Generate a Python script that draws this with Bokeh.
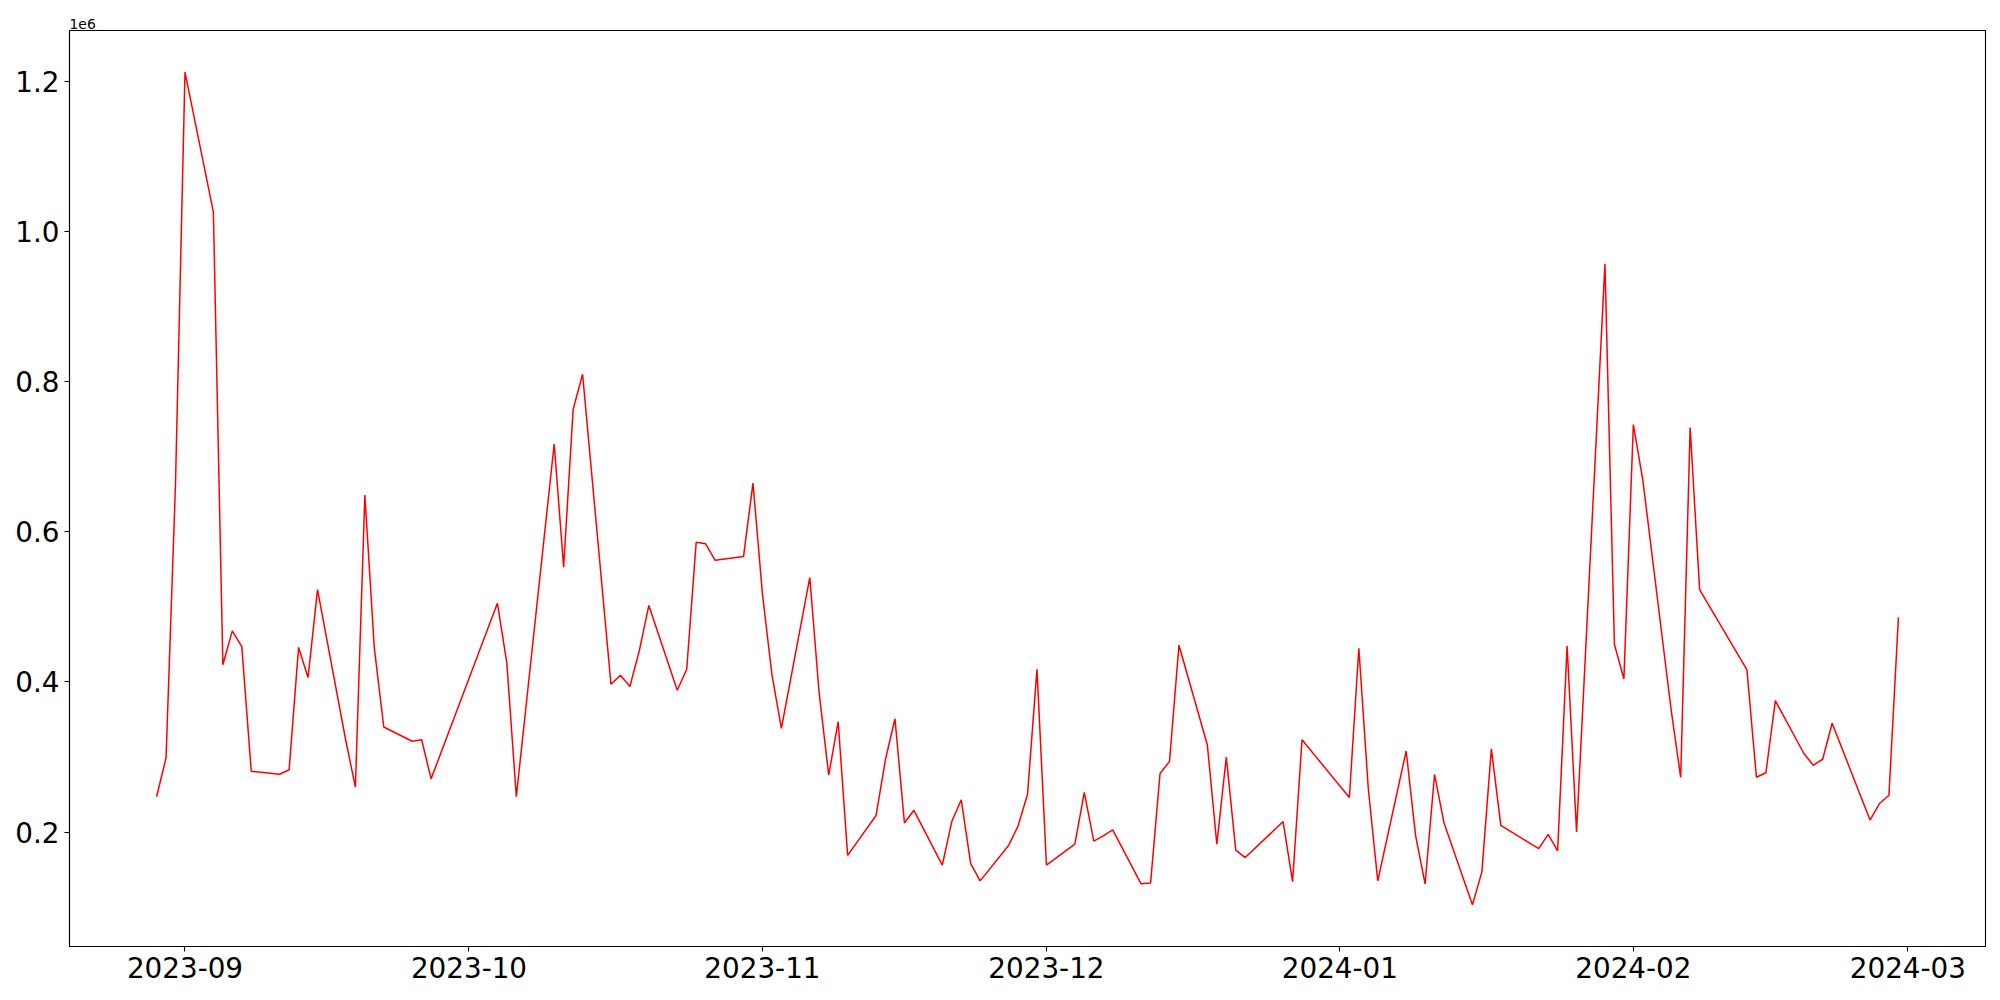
import pandas as pd
from bokeh.plotting import figure
from bokeh.models import ColumnDataSource, FixedTicker, Range1d, Title
from bokeh.embed import file_html
from bokeh.resources import INLINE

# ---- data ----
dates = [
    "2023-08-29", "2023-08-30", "2023-08-31", "2023-09-01", "2023-09-04", "2023-09-05",
    "2023-09-06", "2023-09-07", "2023-09-08", "2023-09-11", "2023-09-12", "2023-09-13",
    "2023-09-14", "2023-09-15", "2023-09-18", "2023-09-19", "2023-09-20", "2023-09-21",
    "2023-09-22", "2023-09-25", "2023-09-26", "2023-09-27", "2023-10-04", "2023-10-05",
    "2023-10-06", "2023-10-10", "2023-10-11", "2023-10-12", "2023-10-13", "2023-10-16",
    "2023-10-17", "2023-10-18", "2023-10-19", "2023-10-20", "2023-10-23", "2023-10-24",
    "2023-10-25", "2023-10-26", "2023-10-27", "2023-10-30", "2023-10-31", "2023-11-01",
    "2023-11-02", "2023-11-03", "2023-11-06", "2023-11-07", "2023-11-08", "2023-11-09",
    "2023-11-10", "2023-11-13", "2023-11-14", "2023-11-15", "2023-11-16", "2023-11-17",
    "2023-11-20", "2023-11-21", "2023-11-22", "2023-11-23", "2023-11-24", "2023-11-27",
    "2023-11-28", "2023-11-29", "2023-11-30", "2023-12-01", "2023-12-04", "2023-12-05",
    "2023-12-06", "2023-12-07", "2023-12-08", "2023-12-11", "2023-12-12", "2023-12-13",
    "2023-12-14", "2023-12-15", "2023-12-18", "2023-12-19", "2023-12-20", "2023-12-21",
    "2023-12-22", "2023-12-26", "2023-12-27", "2023-12-28", "2024-01-02", "2024-01-03",
    "2024-01-04", "2024-01-05", "2024-01-08", "2024-01-09", "2024-01-10", "2024-01-11",
    "2024-01-12", "2024-01-15", "2024-01-16", "2024-01-17", "2024-01-18", "2024-01-22",
    "2024-01-23", "2024-01-24", "2024-01-25", "2024-01-26", "2024-01-29", "2024-01-30",
    "2024-01-31", "2024-02-01", "2024-02-02", "2024-02-05", "2024-02-06", "2024-02-07",
    "2024-02-08", "2024-02-13", "2024-02-14", "2024-02-15", "2024-02-16", "2024-02-19",
    "2024-02-20", "2024-02-21", "2024-02-22", "2024-02-26", "2024-02-27", "2024-02-28",
    "2024-02-29",
]
volume = [
    247000, 299000, 665000, 1212500, 1026000, 423000,
    468000, 447000, 281000, 277000, 283000, 446000,
    406000, 523000, 321000, 260000, 649000, 445000,
    340000, 321000, 323000, 271000, 505000, 425000,
    247000, 717000, 553000, 763000, 810000, 397000,
    409000, 394000, 442000, 502000, 389000, 417000,
    586000, 584000, 562000, 567000, 665000, 517000,
    410000, 338000, 539000, 384000, 276000, 347000,
    169000, 222000, 297000, 351000, 212000, 229000,
    156000, 214000, 243000, 158000, 135000, 182000,
    208000, 250000, 417000, 156000, 184000, 253000,
    188000, 195000, 203000, 131000, 132000, 278000,
    294000, 449000, 316000, 184000, 300000, 176000,
    166000, 214000, 134000, 323000, 246000, 445000,
    258000, 135000, 308000, 195000, 131000, 277000,
    212000, 103000, 147000, 311000, 209000, 178000,
    197000, 175000, 448000, 200000, 957000, 450000,
    404000, 743000, 669000, 362000, 273000, 739000,
    523000, 416000, 273000, 279000, 375000, 305000,
    289000, 297000, 345000, 216000, 238000, 249000,
    486000,
]
x_tick_dates = ["2023-09-01", "2023-10-01", "2023-11-01", "2023-12-01",
                "2024-01-01", "2024-02-01", "2024-03-01"]
x_tick_labels = ["2023-09", "2023-10", "2023-11", "2023-12", "2024-01", "2024-02", "2024-03"]
y_ticks = [200000, 400000, 600000, 800000, 1000000, 1200000]
y_tick_labels = ["0.2", "0.4", "0.6", "0.8", "1.0", "1.2"]
offset_text = "1e6"

# ---- build ----
dt = pd.to_datetime(dates)
src = ColumnDataSource(dict(x=dt, y=volume))

def to_ms(ts):
    return int(pd.Timestamp(ts).value // 10**6)

xmin, xmax = to_ms(dt.min()), to_ms(dt.max())
xpad = 0.05 * (xmax - xmin)
ymin, ymax = min(volume), max(volume)
ypad = 0.05 * (ymax - ymin)

FONT = "DejaVu Sans"

p = figure(width=1992, height=992, x_axis_type="datetime",
           output_backend="svg", toolbar_location=None, title=None,
           x_range=Range1d(xmin - xpad, xmax + xpad),
           y_range=Range1d(ymin - ypad, ymax + ypad),
           min_border_left=69, min_border_right=7,
           min_border_top=30, min_border_bottom=46)

p.line("x", "y", source=src, line_color="red", line_width=1.5)

p.grid.visible = False
p.background_fill_color = "white"
p.border_fill_color = "white"
p.outline_line_color = "black"
p.outline_line_width = 1.1

x_ticks_ms = [to_ms(d) for d in x_tick_dates]
p.xaxis.ticker = FixedTicker(ticks=x_ticks_ms)
p.xaxis.major_label_overrides = {t: l for t, l in zip(x_ticks_ms, x_tick_labels)}
p.yaxis.ticker = FixedTicker(ticks=y_ticks)
p.yaxis.major_label_overrides = {t: l for t, l in zip(y_ticks, y_tick_labels)}

for ax in (p.xaxis, p.yaxis):
    ax.axis_line_color = "black"
    ax.axis_line_width = 1.1
    ax.major_tick_line_color = "black"
    ax.major_tick_line_width = 1.1
    ax.major_tick_out = 5
    ax.major_tick_in = 0
    ax.minor_tick_line_color = None
    ax.major_label_text_font = FONT
    ax.major_label_text_font_size = "27.8px"
    ax.major_label_text_color = "black"
    ax.major_label_standoff = 5

p.add_layout(Title(text=offset_text, align="left", text_font=FONT,
                   text_font_size="13.9px", text_font_style="normal",
                   text_color="black", standoff=3, offset=0), "above")

open("out.html", "w").write(file_html(p, INLINE))
